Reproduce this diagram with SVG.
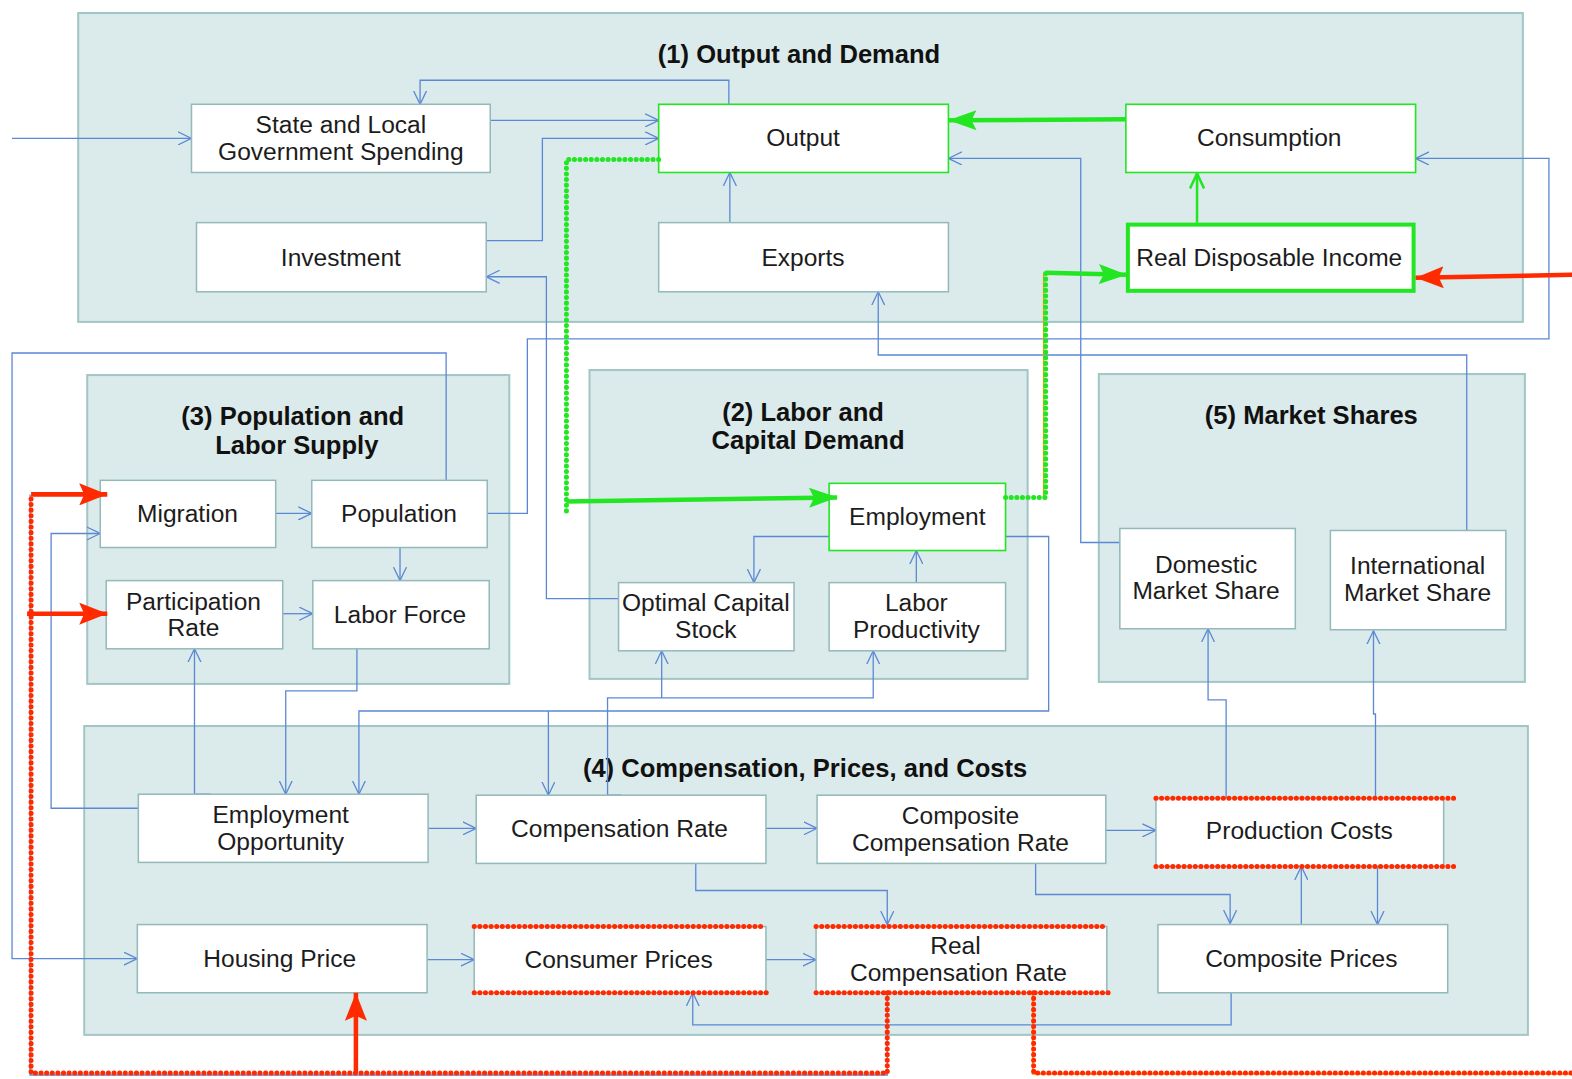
<svg xmlns="http://www.w3.org/2000/svg" width="1572" height="1079" viewBox="0 0 1572 1079">
<style>
.p{fill:#dbeaea;stroke:#a2c5c5;stroke-width:2}
.n{fill:#fff;stroke:#93b9b9;stroke-width:1.5}
.ng{fill:#fff;stroke:#22e622;stroke-width:1.6}
.c{fill:none;stroke:#5b88d6;stroke-width:1.3}
.t{font-family:"Liberation Sans",Arial,sans-serif;font-size:24.5px;fill:#1c1c1c;text-anchor:middle}
.h{font-weight:bold;font-size:25.5px;fill:#111}
.rd{fill:none;stroke:#ff2a00;stroke-width:5;stroke-linecap:round;stroke-dasharray:0.1 5.5}
.gd{fill:none;stroke:#22e622;stroke-width:5;stroke-linecap:round;stroke-dasharray:0.1 5.5}
.gs{fill:none;stroke:#22e622;stroke-width:4.5}
.rs{fill:none;stroke:#ff2a00;stroke-width:4.5}
</style>
<defs>
<marker id="a" viewBox="0 0 14 14" refX="13.5" refY="7" markerWidth="14" markerHeight="14" markerUnits="userSpaceOnUse" orient="auto"><path d="M0,0.5 L13.5,7 L0,13.5" fill="none" stroke="#5b88d6" stroke-width="1.3"/></marker>
<marker id="ag" viewBox="0 0 16 16" refX="15" refY="8" markerWidth="16" markerHeight="16" markerUnits="userSpaceOnUse" orient="auto"><path d="M0,1 L15,8 L0,15" fill="none" stroke="#22e622" stroke-width="2.5"/></marker>
<marker id="gf" viewBox="0 0 28 20" refX="28" refY="10" markerWidth="28" markerHeight="20" markerUnits="userSpaceOnUse" orient="auto"><path d="M0,0 L28,10 L0,20 L5,10 Z" fill="#22e622"/></marker>
<marker id="rf" viewBox="0 0 28 22" refX="28" refY="11" markerWidth="28" markerHeight="22" markerUnits="userSpaceOnUse" orient="auto"><path d="M0,0 L28,11 L0,22 L5,11 Z" fill="#ff2a00"/></marker>
</defs>
<g transform="scale(1.00255 1.00279)">
<g id="panels">
<g id="panel1"><rect class="p" x="78" y="13" width="1441" height="308"/><text class="t h" x="797" y="63">(1) Output and Demand</text></g>
<g id="panel3"><rect class="p" x="87" y="374" width="421" height="308"/><text class="t h" x="292" y="424">(3) Population and</text><text class="t h" x="296" y="453">Labor Supply</text></g>
<g id="panel2"><rect class="p" x="588" y="369" width="437" height="308"/><text class="t h" x="801" y="420">(2) Labor and</text><text class="t h" x="806" y="448">Capital Demand</text></g>
<g id="panel5"><rect class="p" x="1096" y="373" width="425" height="307"/><text class="t h" x="1308" y="423">(5) Market Shares</text></g>
<g id="panel4"><rect class="p" x="84" y="724" width="1440" height="308"/><text class="t h" x="803" y="775">(4) Compensation, Prices, and Costs</text></g>
</g>
<g id="connectors">
<path class="c" d="M727,104 V80 H419 V104" marker-end="url(#a)"/>
<path class="c" d="M489,120 H657" marker-end="url(#a)"/>
<path class="c" d="M485,240 H541 V138 H657" marker-end="url(#a)"/>
<path class="c" d="M728,222 V172" marker-end="url(#a)"/>
<path class="c" d="M1117,552 V541 H1078 V158 H946" marker-end="url(#a)"/>
<path class="c" d="M486,512 H526 V338 H1545 V158 H1412" marker-end="url(#a)"/>
<path class="c" d="M617,597 H545 V276 H485" marker-end="url(#a)"/>
<path class="c" d="M1463,529 V354 H876 V291" marker-end="url(#a)"/>
<path class="c" d="M445,479 V352 H12 V956 H137" marker-end="url(#a)"/>
<path class="c" d="M12,138 H191" marker-end="url(#a)"/>
<path class="c" d="M138,806 H51 V532 H100" marker-end="url(#a)"/>
<path class="c" d="M275,512 H311" marker-end="url(#a)"/>
<path class="c" d="M282,612 H312" marker-end="url(#a)"/>
<path class="c" d="M399,546 V579" marker-end="url(#a)"/>
<path class="c" d="M210,792 H194 V647" marker-end="url(#a)"/>
<path class="c" d="M356,647 V689 H285 V792" marker-end="url(#a)"/>
<path class="c" d="M1003,535 H1046 V709 H358 V792" marker-end="url(#a)"/>
<path class="c" d="M547,709 V793" marker-end="url(#a)"/>
<path class="c" d="M620,793 H606 V696 H871 V649" marker-end="url(#a)"/>
<path class="c" d="M660,696 V649" marker-end="url(#a)"/>
<path class="c" d="M827,535 H752 V581" marker-end="url(#a)"/>
<path class="c" d="M914,581 V549" marker-end="url(#a)"/>
<path class="c" d="M427,826 H475" marker-end="url(#a)"/>
<path class="c" d="M764,826 H815" marker-end="url(#a)"/>
<path class="c" d="M1103,828 H1153" marker-end="url(#a)"/>
<path class="c" d="M694,861 V888 H885 V922" marker-end="url(#a)"/>
<path class="c" d="M1033,861 V892 H1227 V921" marker-end="url(#a)"/>
<path class="c" d="M1298,922 V864" marker-end="url(#a)"/>
<path class="c" d="M1374,864 V922" marker-end="url(#a)"/>
<path class="c" d="M1223,796 V698 H1205 V627" marker-end="url(#a)"/>
<path class="c" d="M1372,796 V712 H1370 V629" marker-end="url(#a)"/>
<path class="c" d="M426,957 H473" marker-end="url(#a)"/>
<path class="c" d="M764,957 H814" marker-end="url(#a)"/>
<path class="c" d="M1228,990 V1022 H691 V990" marker-end="url(#a)"/>
<path class="c" d="M885,990 V1072 H30 V493"/>
</g>
<g id="nodes">
<g id="n-slgs"><rect class="n" x="191" y="104" width="298" height="68"/><text class="t" x="340" y="133">State and Local</text><text class="t" x="340" y="160">Government Spending</text></g>
<g id="n-output"><rect class="ng" x="657" y="104" width="289" height="68"/><text class="t" x="801" y="146">Output</text></g>
<g id="n-consumption"><rect class="ng" x="1123" y="104" width="289" height="68"/><text class="t" x="1266" y="146">Consumption</text></g>
<g id="n-investment"><rect class="n" x="196" y="222" width="289" height="69"/><text class="t" x="340" y="265">Investment</text></g>
<g id="n-exports"><rect class="n" x="657" y="222" width="289" height="69"/><text class="t" x="801" y="265">Exports</text></g>
<g id="n-rdi"><rect class="n" x="1125" y="224" width="285" height="66" style="stroke:#22e622;stroke-width:4"/><text class="t" x="1266" y="265">Real Disposable Income</text></g>
<g id="n-migration"><rect class="n" x="100" y="479" width="175" height="67"/><text class="t" x="187" y="521">Migration</text></g>
<g id="n-population"><rect class="n" x="311" y="479" width="175" height="67"/><text class="t" x="398" y="521">Population</text></g>
<g id="n-participation"><rect class="n" x="106" y="579" width="176" height="68"/><text class="t" x="193" y="608">Participation</text><text class="t" x="193" y="634">Rate</text></g>
<g id="n-laborforce"><rect class="n" x="312" y="579" width="176" height="68"/><text class="t" x="399" y="621">Labor Force</text></g>
<g id="n-employment"><rect class="ng" x="827" y="482" width="176" height="67"/><text class="t" x="915" y="524">Employment</text></g>
<g id="n-optimal"><rect class="n" x="617" y="581" width="175" height="68"/><text class="t" x="704" y="609">Optimal Capital</text><text class="t" x="704" y="636">Stock</text></g>
<g id="n-laborprod"><rect class="n" x="827" y="581" width="176" height="68"/><text class="t" x="914" y="609">Labor</text><text class="t" x="914" y="636">Productivity</text></g>
<g id="n-domestic"><rect class="n" x="1117" y="527" width="175" height="100"/><text class="t" x="1203" y="571">Domestic</text><text class="t" x="1203" y="597">Market Share</text></g>
<g id="n-international"><rect class="n" x="1327" y="529" width="175" height="99"/><text class="t" x="1414" y="572">International</text><text class="t" x="1414" y="599">Market Share</text></g>
<g id="n-empopp"><rect class="n" x="138" y="792" width="289" height="68"/><text class="t" x="280" y="821">Employment</text><text class="t" x="280" y="848">Opportunity</text></g>
<g id="n-comprate"><rect class="n" x="475" y="793" width="289" height="68"/><text class="t" x="618" y="835">Compensation Rate</text></g>
<g id="n-compcomp"><rect class="n" x="815" y="793" width="288" height="68"/><text class="t" x="958" y="822">Composite</text><text class="t" x="958" y="849">Compensation Rate</text></g>
<g id="n-prodcosts"><rect class="n" x="1153" y="796" width="287" height="68"/><text class="t" x="1296" y="837">Production Costs</text></g>
<g id="n-housing"><rect class="n" x="137" y="922" width="289" height="68"/><text class="t" x="279" y="964">Housing Price</text></g>
<g id="n-consumer"><rect class="n" x="473" y="924" width="291" height="66"/><text class="t" x="617" y="965">Consumer Prices</text></g>
<g id="n-realcomp"><rect class="n" x="814" y="924" width="290" height="66"/><text class="t" x="953" y="951">Real</text><text class="t" x="956" y="978">Compensation Rate</text></g>
<g id="n-compprices"><rect class="n" x="1155" y="922" width="289" height="68"/><text class="t" x="1298" y="964">Composite Prices</text></g>
</g>
<g id="highlights">
<path class="rd" d="M1153,796 H1453 M1153,864 H1455"/>
<path class="rd" d="M473,924 H764 M473,990 H766"/>
<path class="rd" d="M814,924 H1104 M814,990 H1107"/>
<path class="rd" d="M885,990 V1070 H31 V493"/>
<path d="M1030,990 V1071 H1572" fill="none" stroke="#f0a000" stroke-width="1.5"/>
<path class="rd" d="M1031,990 V1070 H1572"/>
<path class="rs" d="M31,493 H107" marker-end="url(#rf)"/>
<path class="rs" d="M27,612 H107" marker-end="url(#rf)"/>
<path class="rs" d="M355,1070 V990" marker-end="url(#rf)"/>
<path class="rs" d="M1572,274 L1412,277" marker-end="url(#rf)"/>
<path class="gs" d="M1123,119 L946,120" marker-end="url(#gf)"/>
<path d="M1194,222 V173" fill="none" stroke="#22e622" stroke-width="2.5" marker-end="url(#ag)"/>
<path class="gd" d="M657,159 H565 V510"/>
<path class="gs" d="M565,500 L835,496" marker-end="url(#gf)"/>
<path d="M1041,498 V273" fill="none" stroke="#f0a000" stroke-width="1.5"/>
<path class="gd" d="M1003,496 H1043 V272"/>
<path class="gs" d="M1043,272 L1124,274" marker-end="url(#gf)"/>
</g>
</g>
</svg>
